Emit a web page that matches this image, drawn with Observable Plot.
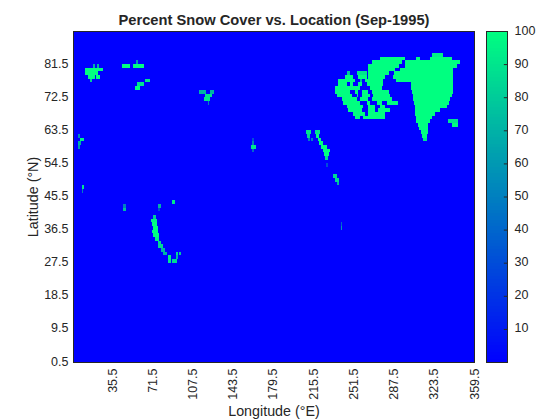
<!DOCTYPE html>
<html><head><meta charset="utf-8">
<script src="https://cdn.jsdelivr.net/npm/d3@7"></script>
<script src="https://cdn.jsdelivr.net/npm/@observablehq/plot@0.6"></script>
<style>html,body{margin:0;padding:0;background:#fff}#c{position:relative;width:560px;height:420px;overflow:hidden}#c svg{position:absolute;top:0;background:transparent}</style>
</head><body><div id="c"></div>
<script>
// each row: [latitude, lon start, lon end, percent snow cover (default 100)]
const greenland=[[84,321.6,332,95],[83,308,311],[83,320,339.5],[82,297.7,347],[81,297.7,344],[80,293,341],[79,288,341],[78,287,341],[77,290,341],[76,303,341],[75,303,341],[74,304,340.4],[73,304.6,339.5],[72,305,338],[71,306,337.4],[70,306.7,335],[69,306.7,329],[68,306.7,324.6],[67,307.6,321.6],[66,308,320],[65,309.7,318.6],[64,310.6,318.6],[63,311.8,318],[62,312.6,317.7],[61,314,317,90]];
const iceland=[[66,336.5,345.5,90],[65,339.5,345.5]];
const arctic=[[83,275,298],[82,268,295],[81,265,292],[80,265,289],[79,245.5,248.5,80],[79,254.5,263.4,90],[79,265,283],[78,244,251.5],[78,256,263.4],[78,265,280],[77,238,253],[77,257.5,259,70],[77,262,278.4],[76,238,245.5],[76,248.5,251.5],[76,256,259],[76,263.4,278.4],[75,235,257.5],[75,266.4,277],[74,235,248.5],[74,253,256],[74,259,265],[74,268,283],[73,236.6,250],[73,254.5,256],[73,259,266.4],[73,269.4,284.3],[72,241,254.5],[72,257.5,265],[72,268,286],[71,242.5,257.5],[71,263.4,266.4],[71,272.4,277],[71,281.3,291.8],[70,245.5,260.4],[70,265,271],[70,275.4,280],[69,247,259],[69,265,271],[69,274,284.3],[68,251.5,262],[68,265,280],[67,253,257.5],[67,260.4,280]];
const eurasiaNorth=[[81,18.7,20.5,70],[81,22.3,24,70],[80,11.2,27.6],[79,11.2,23.2],[78,14.2,20.2],[78,21,24.7],[77,15.7,17.5,80],[81,44.3,51.5],[82,56.6,59,60],[81,54.5,64],[77,65,69.4,90],[76,57.5,64,90],[75,56.3,60.5],[74,113.6,119.5,70],[74,123.1,126.7,70],[73,118.7,124.6,90],[72,117.8,123.1,90],[71,121.3,122.5,50]];
const eurasiaSouth=[[62,5.3,6.8,55],[61,6.8,10.3,95],[60,5.3,7.6,70],[59,5.3,6.8,60],[48,8.2,10.3,90],[47,8.2,9.6,50],[43,45.5,47.6,50],[42,45.5,47.6,75],[43,76.9,79.3,70],[42,76.9,78,30],[44,89.1,92.1,90]];
const himalaya=[[40,71.8,74.5,80],[39,70.6,75.4,95],[38,71.5,75.4],[37,71.8,76.3],[36,70.9,76.3],[35,71.8,77.5],[34,73.9,77.8,95],[33,76.3,79,85],[32,76.9,80.8,85],[31,79,82.8,70],[30,81.4,84.3,70],[30,92.7,94.5,85],[30,95.4,97.2,80],[29,85.8,88.2,95],[29,92.7,94.5,70],[28,85.8,87.9,90],[28,88.8,93.3,85]];
const northAmerica=[[63,209.1,213.3,90],[63,217.2,222,90],[62,209.7,212.7,85],[62,218,221],[61,211.2,212.7,50],[61,213.6,215.1,50],[61,219.6,222.6],[60,221,224.6],[59,222.6,227.6],[58,224.6,230.6],[57,225.5,230],[56,226,228.5,85],[54,227,228.5,30],[51,233.6,236.6,85],[50,235.4,238.4,85],[49,236.6,238.7,70],[38,240.4,241.4,40],[37,240.4,241.4,60],[61,160.7,162.7,30],[60,160.7,162.7,50],[59,160,164,90],[58,160.7,162.7,40]];
const lonTicks=[35.5,71.5,107.5,143.5,179.5,215.5,251.5,287.5,323.5,359.5];
const latTicks=[0.5,9.5,18.5,27.5,36.5,45.5,54.5,63.5,72.5,81.5];
const barTicks=[10,20,30,40,50,60,70,80,90,100];
const barLevels=d3.range(0,100,1);

const cells=[...greenland,...iceland,...arctic,...eurasiaNorth,...eurasiaSouth,...himalaya,...northAmerica]
  .map(([lat,lon1,lon2,pct=100])=>({lat,lon1,lon2,pct}));
const font="'Liberation Sans',Arial,sans-serif";
const ink="#262626";
const colors={type:"linear",domain:[0,100],range:["#0000ff","#00ff80"]};

const main=Plot.plot({
  width:560,height:420,marginLeft:73,marginRight:86,marginTop:31,marginBottom:58,
  style:{fontFamily:font,fontSize:"12px",color:ink,background:"transparent"},
  x:{domain:[0.5,359.5]},y:{domain:[0.5,90.5]},color:colors,
  marks:[
    Plot.frame({fill:"#0000ff",stroke:null}),
    Plot.rect(cells,{x1:"lon1",x2:"lon2",y1:d=>d.lat-0.5,y2:d=>d.lat+0.5,fill:"pct",shapeRendering:"crispEdges"}),
    Plot.frame({stroke:ink,strokeWidth:1}),
    Plot.axisX({ticks:lonTicks,tickSize:0,tickPadding:6,tickRotate:-90,tickFormat:d=>d.toFixed(1),fill:ink,fontSize:12.5}),
    Plot.axisX({ticks:[],label:"Longitude (°E)",labelAnchor:"center",labelArrow:"none",labelOffset:53,fill:ink,fontSize:14.3}),
    Plot.axisY({ticks:latTicks,tickSize:0,tickPadding:5,tickFormat:d=>d.toFixed(1),fill:ink,fontSize:12.5,dy:-1}),
    Plot.axisY({ticks:[],label:"Latitude (°N)",labelAnchor:"center",labelArrow:"none",labelOffset:46,fill:ink,fontSize:14.3}),
    Plot.text(["Percent Snow Cover vs. Location (Sep-1995)"],{frameAnchor:"top",dy:-17,fontWeight:"bold",fontSize:14.7,fill:ink})
  ]
});
document.getElementById("c").appendChild(main);
main.style.left="0px";

const bar=Plot.plot({
  width:74,height:420,marginLeft:0,marginRight:53,marginTop:31,marginBottom:58,
  style:{fontFamily:font,fontSize:"12px",color:ink,background:"transparent"},
  x:{domain:[0,1],axis:null},y:{domain:[0,100]},color:colors,
  marks:[
    Plot.rect(barLevels,{x1:0,x2:1,y1:d=>d,y2:d=>d+1,fill:d=>d+0.5,shapeRendering:"crispEdges"}),
    Plot.ruleY(barTicks,{x1:0.85,x2:1,stroke:ink}),
    Plot.frame({stroke:ink}),
    Plot.axisY({anchor:"right",ticks:barTicks,tickSize:0,tickPadding:7,fill:ink,label:null,fontSize:12.5,dy:-1})
  ]
});
document.getElementById("c").appendChild(bar);
bar.style.left="486px";
</script></body></html>
